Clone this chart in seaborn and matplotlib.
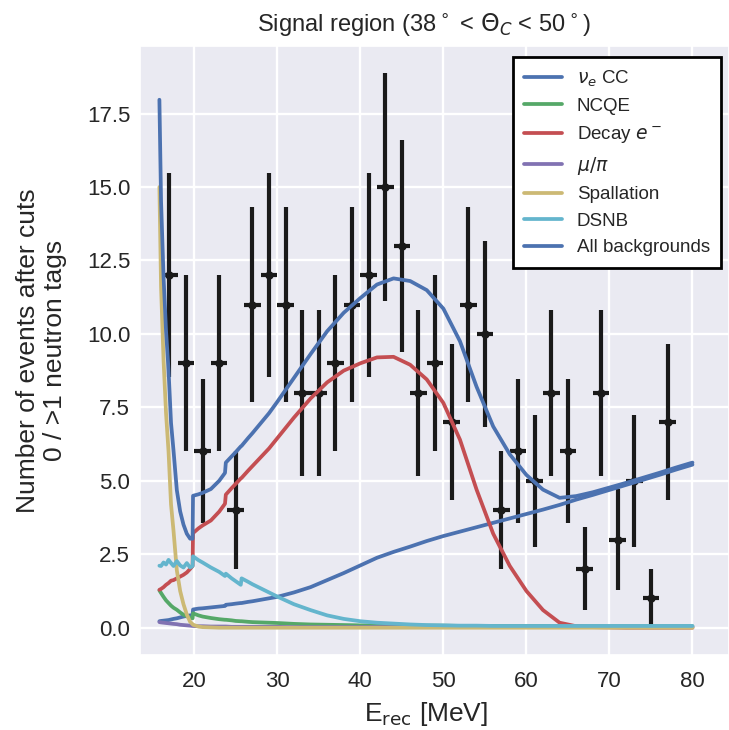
import numpy as np
import pandas as pd
import matplotlib
matplotlib.use("Agg")
import matplotlib.pyplot as plt
import seaborn as sns

# Reconstructed energy grid [MeV] for the background curves
energy = [15.8, 16.0, 16.3, 16.6, 16.9, 17.2, 17.5, 17.9, 18.3, 18.7, 19.1, 19.5, 19.8, 19.85,
          20.5, 21.0, 22.0, 23.0, 23.7, 23.8,
          24.5, 25.0, 25.6, 25.7, 26.5, 27.0, 28.0, 29.0, 30.0,
          32, 34, 36, 38, 40, 42, 44, 46, 48, 50, 52, 54, 56, 58, 60, 62, 64, 66, 68,
          70, 72, 74, 76, 78, 80]

nue_cc = [0.22, 0.23, 0.24, 0.25, 0.26, 0.28, 0.30, 0.32, 0.35, 0.38, 0.40, 0.42, 0.43, 0.62,
          0.65, 0.66, 0.69, 0.72, 0.74, 0.78,
          0.80, 0.82, 0.84, 0.84, 0.88, 0.90, 0.95, 1.00, 1.05,
          1.20, 1.38, 1.62, 1.86, 2.12, 2.38, 2.58, 2.76, 2.95, 3.12, 3.27, 3.42, 3.57,
          3.72, 3.87, 4.02, 4.18, 4.36, 4.52, 4.69, 4.86, 5.03, 5.20, 5.38, 5.55]

ncqe = [1.27, 1.18, 1.05, 0.93, 0.84, 0.75, 0.68, 0.61, 0.52, 0.44, 0.39, 0.34, 0.32, 0.49,
        0.42, 0.38, 0.33, 0.29, 0.27, 0.27,
        0.25, 0.23, 0.22, 0.22, 0.20, 0.19, 0.18, 0.17, 0.16,
        0.13, 0.11, 0.10, 0.09, 0.08, 0.08, 0.07, 0.07, 0.07, 0.07, 0.06, 0.06, 0.06,
        0.06, 0.06, 0.06, 0.05, 0.05, 0.05, 0.05, 0.05, 0.05, 0.05, 0.05, 0.05]

decay_e = [1.29, 1.32, 1.38, 1.46, 1.52, 1.60, 1.62, 1.68, 1.74, 1.80, 1.88, 2.00, 2.10, 3.22,
           3.38, 3.48, 3.65, 3.95, 4.22, 4.53,
           4.75, 4.90, 5.08, 5.10, 5.35, 5.50, 5.80, 6.10, 6.45,
           7.15, 7.80, 8.35, 8.75, 9.00, 9.20, 9.22, 8.95, 8.45, 7.65, 6.40, 4.70, 3.20,
           2.10, 1.25, 0.60, 0.17, 0.05, 0.02, 0.01, 0.00, 0.00, 0.00, 0.00, 0.00]

mu_pi = [0.19, 0.18, 0.17, 0.16, 0.15, 0.14, 0.13, 0.12, 0.10, 0.09, 0.08, 0.07, 0.06, 0.06,
         0.05, 0.05, 0.04, 0.04, 0.04, 0.04,
         0.03, 0.03, 0.03, 0.03, 0.03, 0.03, 0.03, 0.03, 0.03,
         0.02, 0.02, 0.02, 0.02, 0.02, 0.02, 0.02, 0.02, 0.02, 0.02, 0.02, 0.02, 0.02,
         0.02, 0.02, 0.02, 0.02, 0.02, 0.02, 0.02, 0.02, 0.02, 0.02, 0.02, 0.02]

spallation = [15.0, 11.6, 9.1, 7.3, 6.0, 4.2, 3.3, 1.95, 1.25, 0.80, 0.45, 0.20, 0.12, 0.10,
              0.04, 0.02, 0.01, 0.00, 0.00, 0.00,
              0.00, 0.00, 0.00, 0.00, 0.00, 0.00, 0.00, 0.00, 0.00,
              0.00, 0.00, 0.00, 0.00, 0.00, 0.00, 0.00, 0.00, 0.00, 0.00, 0.00, 0.00, 0.00,
              0.00, 0.00, 0.00, 0.00, 0.00, 0.00, 0.00, 0.00, 0.00, 0.00, 0.00, 0.00]

dsnb = [2.11, 2.10, 2.22, 2.15, 2.31, 2.20, 2.10, 2.27, 2.12, 2.05, 2.20, 2.05, 2.10, 2.43,
        2.30, 2.22, 2.05, 1.90, 1.76, 1.84,
        1.68, 1.58, 1.46, 1.68, 1.56, 1.48, 1.34, 1.20, 1.06,
        0.80, 0.60, 0.42, 0.30, 0.22, 0.17, 0.14, 0.11, 0.09, 0.08, 0.07, 0.07, 0.06,
        0.06, 0.06, 0.06, 0.06, 0.06, 0.06, 0.06, 0.06, 0.06, 0.06, 0.06, 0.06]

# Observed events (2 MeV bins)
bin_centers = [17, 19, 21, 23, 25, 27, 29, 31, 33, 35, 37, 39, 41, 43, 45, 47,
               49, 51, 53, 55, 57, 59, 61, 63, 65, 67, 69, 71, 73, 75, 77]
counts = [12, 9, 6, 9, 4, 11, 12, 11, 8, 8, 9, 11, 12, 15, 13, 8,
          9, 7, 11, 10, 4, 6, 5, 8, 6, 2, 8, 3, 5, 1, 7]

df = pd.DataFrame({'E': energy, 'nue_cc': nue_cc, 'ncqe': ncqe, 'decay_e': decay_e,
                   'mu_pi': mu_pi, 'spallation': spallation, 'dsnb': dsnb})
df['total'] = df[['nue_cc', 'ncqe', 'decay_e', 'mu_pi', 'spallation']].sum(axis=1)

data = pd.DataFrame({'E': bin_centers, 'N': counts})
data['err'] = np.sqrt(data['N'])

sns.set_theme(style='darkgrid')
plt.rcParams['font.family'] = ['Liberation Sans', 'DejaVu Sans']
plt.rcParams['grid.linewidth'] = 1.7

# old seaborn "deep" colours
colors = ['#4C72B0', '#55A868', '#C44E52', '#8172B2', '#CCB974', '#64B5CD']

fig = plt.figure(figsize=(7.29, 7.30), dpi=100)
ax = fig.add_axes([0.192, 0.1027, 0.808, 0.8343])

ax.errorbar(data['E'], data['N'], yerr=data['err'], xerr=1, fmt='o', color='k',
            markersize=5, elinewidth=3, capsize=0, zorder=2)

series = [('nue_cc', r'$\nu_e$ CC'), ('ncqe', 'NCQE'), ('decay_e', r'Decay $e^-$'),
          ('mu_pi', r'$\mu/\pi$'), ('spallation', 'Spallation'), ('dsnb', 'DSNB')]
for (col, label), c in zip(series, colors):
    sns.lineplot(data=df, x='E', y=col, ax=ax, color=c, linewidth=2.7, label=label, zorder=3)
sns.lineplot(data=df, x='E', y='total', ax=ax, color=colors[0], linewidth=2.7,
             label='All backgrounds', zorder=3)

ax.set_xlim(13.46, 84.4)
ax.set_ylim(-0.93, 19.8)
ax.set_xticks([20, 30, 40, 50, 60, 70, 80])
ax.set_yticks([0, 2.5, 5, 7.5, 10, 12.5, 15, 17.5])
ax.tick_params(axis='x', labelsize=16, length=0, pad=11.5, colors='.15')
ax.tick_params(axis='y', labelsize=16, length=0, pad=7, colors='.15')

ax.set_xlabel(r'E$_{\rm rec}$ [MeV]', fontsize=19, color='.15', labelpad=6)
ax.xaxis.label.set_x(0.485)
ax.set_ylabel('Number of events after cuts\n0 / >1 neutron tags', fontsize=19,
              color='.15', labelpad=14)
ax.set_title(r'Signal region (38$^\circ$ < $\Theta_C$ < 50$^\circ$)', fontsize=17,
             color='.15', pad=10, x=0.482)

leg = ax.legend(loc='upper right', bbox_to_anchor=(0.987, 0.982), fontsize=13.5,
                frameon=True, fancybox=False, facecolor='white', edgecolor='black',
                framealpha=1, borderpad=0.6, borderaxespad=0)
leg.get_frame().set_linewidth(2)

fig.savefig('out.png', dpi=100)
